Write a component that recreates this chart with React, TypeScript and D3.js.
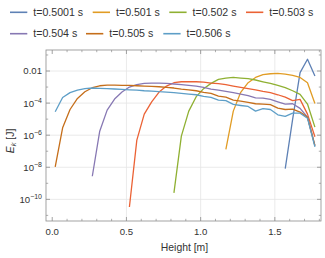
import React from "react";
import * as d3 from "d3";

// sample heights [m], shared by every series
const heights = [
  0.02, 0.07, 0.12, 0.17, 0.22, 0.27, 0.32, 0.37, 0.42, 0.47, 0.52, 0.57,
  0.62, 0.67, 0.72, 0.77, 0.82, 0.87, 0.92, 0.97, 1.02, 1.07, 1.12, 1.17,
  1.22, 1.27, 1.32, 1.37, 1.42, 1.47, 1.52, 1.57, 1.62, 1.67, 1.72, 1.77,
];

const labels = [
  "t=0.5001 s",
  "t=0.501 s",
  "t=0.502 s",
  "t=0.503 s",
  "t=0.504 s",
  "t=0.505 s",
  "t=0.506 s",
];
const colors = ["#5e81b5", "#e19c24", "#8fb032", "#eb6235", "#8778b3", "#c56e1a", "#5d9ec7"];

// index into heights where each series begins
const startIndex = [31, 23, 16, 10, 5, 0, 0];

// log10 of E_k [J]
const logEk0 = [-8.08, -5.0, -2.1, -1.27, -2.31];
const logEk1 = [-6.88, -4.5, -3.33, -2.73, -2.4, -2.23, -2.17, -2.15, -2.19, -2.27, -2.4, -2.73, -4.02];
const logEk2 = [
  -9.6, -6.06, -4.5, -3.6, -3.1, -2.77, -2.52, -2.44, -2.4, -2.44, -2.48, -2.56, -2.67, -2.77,
  -2.9, -3.04, -3.23, -3.46, -4.06, -5.5,
];
const logEk3 = [
  -10.48, -6.31, -4.69, -3.92, -3.31, -2.94, -2.73, -2.67, -2.67, -2.67, -2.69, -2.75, -2.79,
  -2.85, -2.94, -3.02, -3.1, -3.17, -3.27, -3.35, -3.48, -3.63, -3.85, -3.77, -4.69, -6.1,
];
const logEk4 = [
  -8.56, -5.75, -4.44, -3.75, -3.31, -3.0, -2.85, -2.77, -2.75, -2.75, -2.77, -2.81, -2.85,
  -2.9, -2.94, -3.02, -3.13, -3.19, -3.27, -3.35, -3.44, -3.54, -3.67, -3.69, -3.77, -3.92,
  -4.06, -4.04, -4.33, -4.88, -6.65,
];
const logEk5 = [
  -7.98, -5.54, -4.4, -3.71, -3.29, -3.04, -2.92, -2.88, -2.88, -2.9, -2.9, -2.92, -2.94,
  -2.96, -2.98, -3.02, -3.06, -3.13, -3.17, -3.23, -3.33, -3.4, -3.56, -3.63, -3.81, -3.88,
  -3.96, -4.04, -4.06, -4.1, -4.31, -4.4, -4.38, -4.56, -4.88, -6.65,
];
const logEk6 = [
  -4.54, -3.65, -3.35, -3.19, -3.1, -3.06, -3.08, -3.1, -3.12, -3.15, -3.17, -3.19, -3.23,
  -3.25, -3.29, -3.31, -3.35, -3.4, -3.44, -3.48, -3.58, -3.65, -3.81, -3.85, -4.08, -4.15,
  -4.21, -4.5, -4.35, -4.4, -4.73, -4.83, -4.63, -4.63, -4.94, -6.73,
];
const allSeries = [logEk0, logEk1, logEk2, logEk3, logEk4, logEk5, logEk6];

const xMajor = [0, 0.5, 1.0, 1.5];
const xMinor = [0.1, 0.2, 0.3, 0.4, 0.6, 0.7, 0.8, 0.9, 1.1, 1.2, 1.3, 1.4, 1.6, 1.7, 1.8];
const yMajorExp = [-2, -4, -6, -8, -10];
const yMinorExp = [-1, -3, -5, -7, -9, -11];

// legend rows: [series index, x of line start]
const legendRow1 = [[0, 10], [1, 92.7], [2, 169.3], [3, 246]];
const legendRow2 = [[4, 10], [5, 86], [6, 163.3]];

const font = "'Liberation Sans', Arial, sans-serif";

const App = () => {
  const left = 46,
    right = 321,
    top = 50,
    bottom = 221;

  const x = d3.scaleLinear().domain([-0.042, 1.811]).range([left, right]);
  const y = d3
    .scaleLog()
    .domain([Math.pow(10, -11.35), Math.pow(10, -0.69)])
    .range([bottom, top]);

  const line = d3
    .line<[number, number]>()
    .x((d) => x(d[0]))
    .y((d) => y(Math.pow(10, d[1])));

  const frame = "#8c8c8c";
  const grid = "#e4e4e4";

  const legendItem = (idx: number, lx: number, ly: number) => (
    <g key={idx}>
      <line x1={lx} x2={lx + 17.3} y1={ly} y2={ly} stroke={colors[idx]} strokeWidth={1.6} />
      <text x={lx + 23.3} y={ly + 3.6} fontSize={10.6} fill="#333">
        {labels[idx]}
      </text>
    </g>
  );

  return (
    <svg width={325} height={258} style={{ position: "absolute", left: 0, top: 0, fontFamily: font }}>
      <rect width={325} height={258} fill="#fff" />
      {legendRow1.map(([i, lx]) => legendItem(i, lx, 12.3))}
      {legendRow2.map(([i, lx]) => legendItem(i, lx, 33.7))}

      {/* grid */}
      {yMajorExp.map((e) => (
        <line key={"gy" + e} x1={left} x2={right} y1={y(Math.pow(10, e))} y2={y(Math.pow(10, e))} stroke={grid} strokeWidth={0.8} />
      ))}
      {xMajor.slice(1).map((v) => (
        <line key={"gx" + v} x1={x(v)} x2={x(v)} y1={top} y2={bottom} stroke={grid} strokeWidth={0.8} />
      ))}

      {/* series */}
      <g clipPath="url(#clip)">
        {allSeries.map((s, i) => {
          const pts = s.map((v, j) => [heights[startIndex[i] + j], v] as [number, number]);
          return <path key={i} d={line(pts) || ""} fill="none" stroke={colors[i]} strokeWidth={1.3} strokeLinejoin="round" />;
        })}
      </g>
      <defs>
        <clipPath id="clip">
          <rect x={left} y={top} width={right - left} height={bottom - top} />
        </clipPath>
      </defs>

      {/* frame */}
      <rect x={left} y={top} width={right - left} height={bottom - top} fill="none" stroke={frame} strokeWidth={0.8} />

      {/* x ticks */}
      {xMajor.map((v) => (
        <g key={"xt" + v}>
          <line x1={x(v)} x2={x(v)} y1={bottom} y2={bottom - 4} stroke={frame} strokeWidth={0.8} />
          <line x1={x(v)} x2={x(v)} y1={top} y2={top + 4} stroke={frame} strokeWidth={0.8} />
          <text x={x(v)} y={bottom + 14} textAnchor="middle" fontSize={9.6} fill="#333">
            {d3.format(".1f")(v)}
          </text>
        </g>
      ))}
      {xMinor.map((v) => (
        <g key={"xm" + v}>
          <line x1={x(v)} x2={x(v)} y1={bottom} y2={bottom - 2.2} stroke={frame} strokeWidth={0.7} />
          <line x1={x(v)} x2={x(v)} y1={top} y2={top + 2.2} stroke={frame} strokeWidth={0.7} />
        </g>
      ))}

      {/* y ticks */}
      {yMajorExp.map((e) => {
        const yy = y(Math.pow(10, e));
        return (
          <g key={"yt" + e}>
            <line x1={left} x2={left + 4} y1={yy} y2={yy} stroke={frame} strokeWidth={0.8} />
            <line x1={right} x2={right - 4} y1={yy} y2={yy} stroke={frame} strokeWidth={0.8} />
            {e === -2 ? (
              <text x={left - 4} y={yy + 3.4} textAnchor="end" fontSize={9.6} fill="#333">
                0.01
              </text>
            ) : (
              <text x={left - 4} y={yy + 4} textAnchor="end" fontSize={9.6} fill="#333">
                10
                <tspan fontSize={7} dy={-4.5}>
                  {"\u2212" + -e}
                </tspan>
              </text>
            )}
          </g>
        );
      })}
      {yMinorExp.map((e) => {
        const yy = y(Math.pow(10, e));
        return (
          <g key={"ym" + e}>
            <line x1={left} x2={left + 2.2} y1={yy} y2={yy} stroke={frame} strokeWidth={0.7} />
            <line x1={right} x2={right - 2.2} y1={yy} y2={yy} stroke={frame} strokeWidth={0.7} />
          </g>
        );
      })}

      {/* axis labels */}
      <text x={(left + right) / 2 + 1} y={251} textAnchor="middle" fontSize={10.4} fill="#333">
        Height [m]
      </text>
      <text transform="translate(13.5,141) rotate(-90)" textAnchor="middle" fontSize={10.4} fill="#333">
        <tspan fontStyle="italic">E</tspan>
        <tspan fontStyle="italic" fontSize={7.5} dy={2.5}>
          k
        </tspan>
        <tspan dy={-2.5}> [J]</tspan>
      </text>
    </svg>
  );
};

export default App;
